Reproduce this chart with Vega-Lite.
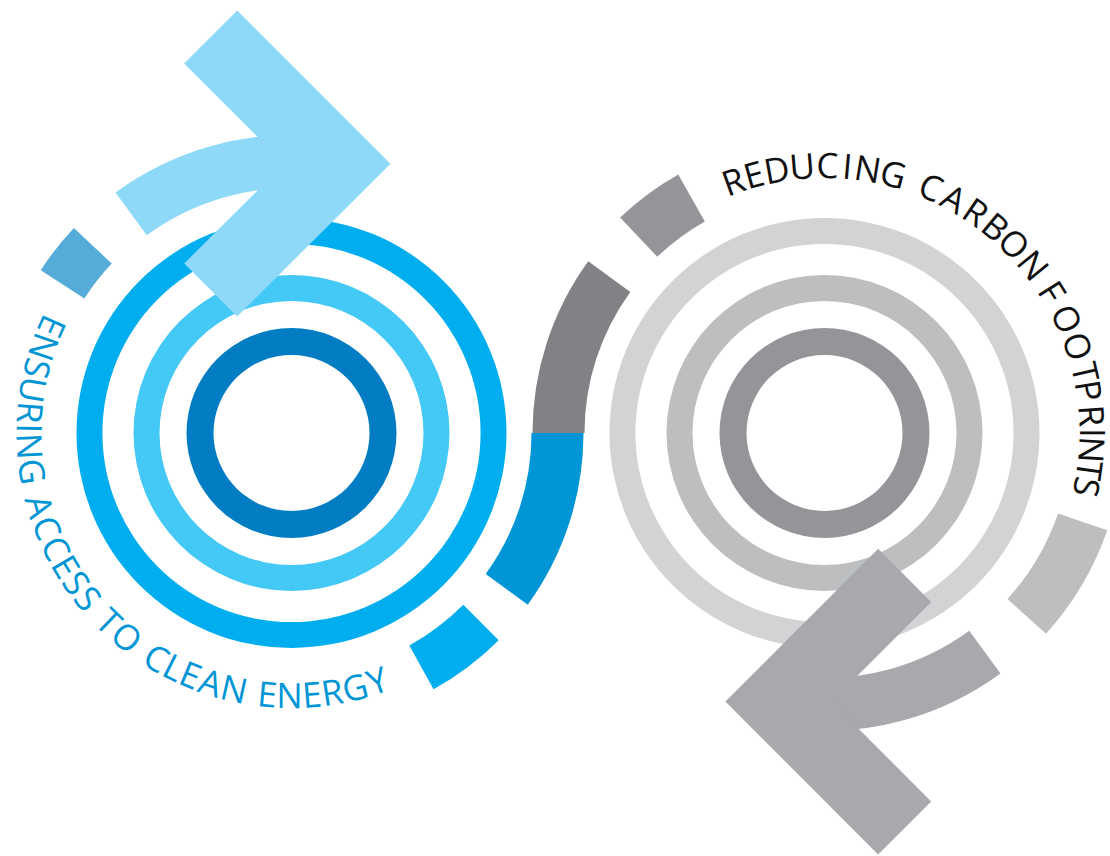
{
  "$schema": "https://vega.github.io/schema/vega-lite/v6.json",
  "width": 1110,
  "height": 856,
  "padding": 0,
  "autosize": {"type": "none"},
  "background": "white",
  "config": {"view": {"stroke": null}},
  "datasets": {
    "arcs": [
      {"el": "L1", "cx": 291.5, "cy": 433, "t0": 0, "t1": 360, "r0": 78, "r1": 105},
      {"el": "L2", "cx": 291.5, "cy": 433, "t0": 0, "t1": 360, "r0": 132, "r1": 158},
      {"el": "L3", "cx": 291.5, "cy": 433, "t0": 0, "t1": 360, "r0": 189, "r1": 215},
      {"el": "L4", "cx": 291.5, "cy": 433, "t0": 90, "t1": 126, "r0": 240, "r1": 292},
      {"el": "L3", "cx": 291.5, "cy": 433, "t0": 135, "t1": 151, "r0": 243, "r1": 293},
      {"el": "L5", "cx": 291.5, "cy": 433, "t0": 303, "t1": 313.3, "r0": 247, "r1": 299},
      {"el": "LA", "cx": 291.5, "cy": 433, "t0": -36.2, "t1": 5, "r0": 245, "r1": 298},
      {"el": "R1", "cx": 824.5, "cy": 433, "t0": 0, "t1": 360, "r0": 78, "r1": 105},
      {"el": "R2", "cx": 824.5, "cy": 433, "t0": 0, "t1": 360, "r0": 132, "r1": 158},
      {"el": "R3", "cx": 824.5, "cy": 433, "t0": 0, "t1": 360, "r0": 189, "r1": 215},
      {"el": "R4", "cx": 824.5, "cy": 433, "t0": 270, "t1": 306, "r0": 240, "r1": 292},
      {"el": "R1", "cx": 824.5, "cy": 433, "t0": 316.5, "t1": 330.5, "r0": 243, "r1": 297},
      {"el": "R2", "cx": 824.5, "cy": 433, "t0": 109, "t1": 132.2, "r0": 247, "r1": 299},
      {"el": "RA", "cx": 824.5, "cy": 433, "t0": 143.8, "t1": 185, "r0": 245, "r1": 298}
    ],
    "chev": [
      {"el": "LA", "o": 1, "x": 210.7, "y": 37},
      {"el": "LA", "o": 2, "x": 337.4, "y": 163.7},
      {"el": "LA", "o": 3, "x": 210.7, "y": 290},
      {"el": "RA", "o": 1, "x": 904.7, "y": 575.4},
      {"el": "RA", "o": 2, "x": 778.4, "y": 701.6},
      {"el": "RA", "o": 3, "x": 904.7, "y": 827.9}
    ],
    "textL": [
      {"ch": "E", "th": 294.0}, {"ch": "N", "th": 289.12}, {"ch": "S", "th": 284.24},
      {"ch": "U", "th": 279.47}, {"ch": "R", "th": 274.48}, {"ch": "I", "th": 271.02},
      {"ch": "N", "th": 267.12}, {"ch": "G", "th": 261.58},
      {"ch": "A", "th": 253.78}, {"ch": "C", "th": 248.79}, {"ch": "C", "th": 243.91},
      {"ch": "E", "th": 239.36}, {"ch": "S", "th": 235.13}, {"ch": "S", "th": 230.91},
      {"ch": "T", "th": 224.09}, {"ch": "O", "th": 218.88},
      {"ch": "C", "th": 210.97}, {"ch": "L", "th": 206.64}, {"ch": "E", "th": 202.63},
      {"ch": "A", "th": 197.97}, {"ch": "N", "th": 192.65},
      {"ch": "E", "th": 185.29}, {"ch": "N", "th": 180.41}, {"ch": "E", "th": 175.53},
      {"ch": "R", "th": 171.08}, {"ch": "G", "th": 165.98}, {"ch": "Y", "th": 160.88}
    ],
    "textR": [
      {"ch": "R", "th": -19.9}, {"ch": "E", "th": -15.3}, {"ch": "D", "th": -10.3},
      {"ch": "U", "th": -4.8}, {"ch": "C", "th": 0.6}, {"ch": "I", "th": 4.9},
      {"ch": "N", "th": 9.3}, {"ch": "G", "th": 14.9},
      {"ch": "C", "th": 23.4}, {"ch": "A", "th": 28.9}, {"ch": "R", "th": 34.4},
      {"ch": "B", "th": 39.7}, {"ch": "O", "th": 45.1}, {"ch": "N", "th": 51.2},
      {"ch": "F", "th": 58.2}, {"ch": "O", "th": 64.8}, {"ch": "O", "th": 71.1},
      {"ch": "T", "th": 76.9}, {"ch": "P", "th": 80.9}, {"ch": "R", "th": 86.3},
      {"ch": "I", "th": 90.0}, {"ch": "N", "th": 93.6}, {"ch": "T", "th": 98.0},
      {"ch": "S", "th": 101.6}
    ]
  },
  "layer": [
    {
      "data": {"name": "arcs"},
      "mark": {"type": "arc"},
      "encoding": {
        "x": {"field": "cx", "type": "quantitative", "scale": {"domain": [0, 1110], "nice": false, "zero": false}, "axis": null},
        "y": {"field": "cy", "type": "quantitative", "scale": {"domain": [0, 856], "nice": false, "zero": false, "reverse": true}, "axis": null},
        "theta": {"field": "t0", "type": "quantitative", "stack": null, "scale": {"domain": [0, 360], "range": [0, 6.283185307179586]}},
        "theta2": {"field": "t1"},
        "radius": {"field": "r1", "type": "quantitative", "scale": {"type": "linear", "domain": [0, 1000], "range": [0, 1000], "zero": true}},
        "radius2": {"field": "r0"},
        "color": {
          "field": "el", "type": "nominal", "legend": null,
          "scale": {
            "domain": ["L1", "L2", "L3", "L4", "L5", "LA", "R1", "R2", "R3", "R4", "RA"],
            "range": ["#027DC3", "#44C8F5", "#00AEEF", "#0096D6", "#56ACD8", "#8ED8F8", "#939598", "#BCBEC0", "#D1D3D4", "#808285", "#A7A9AC"]
          }
        }
      }
    },
    {
      "data": {"name": "chev"},
      "mark": {"type": "line", "strokeWidth": 75, "strokeJoin": "miter", "strokeCap": "butt", "strokeMiterLimit": 10},
      "encoding": {
        "x": {"field": "x", "type": "quantitative", "axis": null},
        "y": {"field": "y", "type": "quantitative", "axis": null},
        "order": {"field": "o", "type": "quantitative"},
        "color": {"field": "el", "type": "nominal", "legend": null}
      }
    },
    {
      "data": {"name": "textL"},
      "mark": {"type": "text", "font": "Open Sans", "fontSize": 35, "fontWeight": 400, "color": "#0096D6", "align": "center", "baseline": "middle"},
      "encoding": {
        "x": {"datum": 291.5, "type": "quantitative", "axis": null},
        "y": {"datum": 433, "type": "quantitative", "axis": null},
        "theta": {"field": "th", "type": "quantitative", "scale": {"domain": [0, 360], "range": [0, 6.283185307179586]}},
        "radius": {"value": 264},
        "text": {"field": "ch"},
        "angle": {"field": "th", "type": "quantitative", "scale": {"domain": [0, 360], "range": [-180, 180]}}
      }
    },
    {
      "data": {"name": "textR"},
      "mark": {"type": "text", "font": "Open Sans", "fontSize": 35, "fontWeight": 400, "color": "#111111", "align": "center", "baseline": "middle"},
      "encoding": {
        "x": {"datum": 824.5, "type": "quantitative", "axis": null},
        "y": {"datum": 433, "type": "quantitative", "axis": null},
        "theta": {"field": "th", "type": "quantitative", "scale": {"domain": [0, 360], "range": [0, 6.283185307179586]}},
        "radius": {"value": 266},
        "text": {"field": "ch"},
        "angle": {"field": "th", "type": "quantitative", "scale": {"domain": [0, 360], "range": [0, 360]}}
      }
    }
  ],
  "resolve": {"scale": {"angle": "independent"}}
}
